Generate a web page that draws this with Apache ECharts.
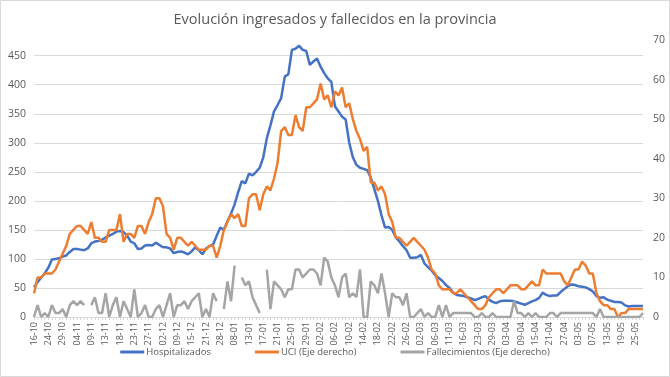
<!DOCTYPE html>
<html>
<head>
<meta charset="utf-8">
<script src="https://cdn.jsdelivr.net/npm/echarts@6/dist/echarts.min.js"></script>
<style>
  html, body { margin: 0; padding: 0; background: #fff; }
  #chart { width: 670px; height: 377px; }
</style>
</head>
<body>
<div id="chart"></div>
<script>
// fechas (una etiqueta de cada cuatro en el eje)
const fechas = [
  '16-10','18-10','20-10','22-10','24-10','26-10','27-10','28-10','29-10','30-10','02-11','03-11',
  '04-11','05-11','06-11','08-11','09-11','10-11','11-11','12-11','13-11','14-11','16-11','17-11',
  '18-11','19-11','20-11','21-11','23-11','24-11','25-11','26-11','27-11','28-11','30-11','01-12',
  '02-12','03-12','04-12','07-12','09-12','10-12','11-12','14-12','15-12','16-12','17-12','18-12',
  '21-12','22-12','23-12','24-12','28-12','29-12','30-12','04-01','08-01','09-01','11-01','12-01',
  '13-01','14-01','15-01','16-01','17-01','18-01','19-01','20-01','21-01','22-01','23-01','24-01',
  '25-01','26-01','27-01','28-01','29-01','30-01','31-01','01-02','02-02','03-02','04-02','05-02',
  '06-02','07-02','08-02','09-02','10-02','11-02','12-02','13-02','14-02','15-02','16-02','17-02',
  '18-02','19-02','20-02','21-02','22-02','23-02','24-02','25-02','26-02','27-02','28-02','01-03',
  '02-03','03-03','04-03','05-03','06-03','08-03','09-03','10-03','11-03','12-03','13-03','15-03',
  '16-03','17-03','18-03','19-03','23-03','24-03','25-03','26-03','29-03','30-03','31-03','01-04',
  '03-04','05-04','06-04','08-04','09-04','12-04','13-04','14-04','15-04','16-04','19-04','20-04',
  '21-04','22-04','23-04','26-04','27-04','28-04','29-04','30-04','03-05','04-05','05-05','06-05',
  '07-05','10-05','11-05','12-05','13-05','14-05','17-05','18-05','19-05','20-05','21-05','24-05',
  '25-05','26-05','27-05'
]

const hospitalizados = [
  51, 60, 68, 75, 85, 99, 100, 101, 104, 106, 112, 117, 117, 116, 115, 118, 127, 130, 131, 133,
  137, 140, 143, 147, 148, 146, 140, 130, 127, 117, 118, 123, 124, 123, 128, 124, 120, 120, 118, 110,
  112, 113, 111, 108, 113, 120, 115, 108, 118, 122, 125, 140, 154, 150, 165, 178, 194, 215, 234, 230,
  247, 244, 250, 257, 275, 308, 330, 354, 365, 377, 414, 418, 460, 462, 467, 460, 458, 434, 440, 445,
  431, 420, 411, 405, 363, 354, 345, 340, 300, 275, 262, 257, 255, 253, 240, 220, 200, 175, 154, 155,
  150, 137, 130, 122, 115, 102, 102, 103, 107, 92, 86, 80, 72, 67, 62, 55, 50, 42, 38, 37,
  36, 34, 32, 29, 31, 34, 36, 30, 26, 24, 27, 28, 28, 28, 27, 25, 23, 21, 24, 27,
  29, 33, 42, 38, 36, 37, 37, 43, 48, 53, 56, 55, 53, 52, 51, 48, 44, 36, 33, 34,
  30, 28, 26, 26, 25, 20, 18, 19, 19, 19, 19
]

const uci = [
  6, 10, 10, 11, 11, 11, 12, 14, 16, 18, 21, 22, 23, 23, 22, 21, 24, 20, 20, 19,
  19, 22, 22, 22, 26, 19, 21, 21, 20, 23, 23, 21, 24, 26, 30, 30, 28, 21, 20, 17,
  20, 20, 19, 18, 19, 18, 17, 17, 17, 18, 18, 15, 18, 22, 24, 26, 25, 26, 23, 23,
  30, 31, 31, 27, 31, 33, 32, 35, 39, 47, 48, 46, 46, 51, 48, 47, 53, 53, 54, 55,
  59, 55, 56, 53, 57, 56, 58, 53, 54, 50, 47, 45, 42, 43, 34, 34, 32, 33, 31, 26,
  24, 20, 20, 19, 18, 19, 20, 19, 18, 17, 15, 12, 11, 8, 7, 7, 7, 6, 6, 7,
  6, 5, 4, 3, 2, 2, 3, 5, 6, 7, 7, 6, 7, 8, 8, 8, 7, 7, 8, 9,
  8, 8, 12, 11, 11, 11, 11, 11, 9, 8, 10, 12, 12, 14, 13, 11, 11, 6, 4, 3,
  3, 2, 2, 0, 1, 1, 2, 2, 2, 2, 2
]

const fallecimientos = [
  0, 3, 0, 1, 0, 3, 1, 1, 2, 0, 3, 4, 3, 4, 3, null, 3, 5, 1, 1,
  6, 0, 3, 5, 0, 4, 2, 0, 7, 0, 1, 3, 0, 0, 2, 3, 0, 3, 6, 0,
  3, 3, 4, 2, 4, 5, 6, 0, 2, 0, 6, 4, null, 2, 9, 4, 13, null, 10, 8,
  9, 5, 3, 1, null, 12, 2, 9, 8, 7, 5, 7, 7, 12, 12, 10, 11, 12, 12, 11,
  8, 15, 14, 10, 8, 5, 10, 11, 5, 6, 5, 12, 0, 0, 9, 8, 6, 11, 6, 0,
  6, 5, 5, 3, 6, 0, 0, 1, 2, 0, 1, 0, 0, 3, 0, 3, 0, 1, 1, 1,
  1, 1, 1, 0, 0, 1, 0, 0, 1, 0, 0, 0, 0, 0, 4, 1, 1, 0, 1, 0,
  1, 0, 0, 0, 1, 1, 0, 1, 1, 1, 1, 1, 1, 1, 1, 1, 1, 0, 2, 0,
  0, 0, 0, 0, 0, 0, 0, 0, 0, 0, 1
]

const chart = echarts.init(document.getElementById('chart'))

const txt = '#595959'
const fuente = 'Open Sans, Noto Sans, sans-serif'

const option = {
  animation: false,
  textStyle: { fontFamily: fuente },
  title: {
    text: 'Evolución ingresados y fallecidos en la provincia',
    left: 'center',
    top: 7,
    textStyle: { fontSize: 14.5, fontWeight: 'normal', color: txt, fontFamily: fuente }
  },
  graphic: [{
    type: 'rect',
    shape: { x: 0.5, y: 0.5, width: 669, height: 376 },
    style: { fill: 'none', stroke: '#d9d9d9', lineWidth: 1 },
    silent: true
  }],
  legend: {
    bottom: 15,
    left: 'center',
    itemWidth: 24,
    itemHeight: 3,
    itemGap: 44,
    icon: 'rect',
    textStyle: { fontSize: 9.5, color: txt, fontFamily: fuente, padding: [0, 0, 0, -3] },
    data: ['Hospitalizados', 'UCI (Eje derecho)', 'Fallecimientos (Eje derecho)']
  },
  grid: { left: 34, right: 27, top: 40, bottom: 60, containLabel: false },
  xAxis: {
    type: 'category',
    data: fechas,
    boundaryGap: false,
    axisLine: { lineStyle: { color: '#d9d9d9' } },
    axisTick: { show: true, interval: 0, length: 3, lineStyle: { color: '#d9d9d9' } },
    axisLabel: { interval: 3, rotate: 90, fontSize: 9, color: txt, margin: 5 }
  },
  yAxis: [{
    type: 'value',
    min: 0,
    max: 477,
    interval: 50,
    axisLine: { show: false },
    axisTick: { show: false },
    axisLabel: { fontSize: 10.5, color: txt, margin: 8, showMaxLabel: false },
    splitLine: { showMaxLine: false, lineStyle: { color: '#d9d9d9' } }
  }, {
    type: 'value',
    min: 0,
    max: 70,
    interval: 10,
    axisLine: { show: false },
    axisTick: { show: false },
    axisLabel: { fontSize: 10.5, color: txt, margin: 10 },
    splitLine: { show: false }
  }],
  series: [{
    name: 'Hospitalizados',
    type: 'line',
    data: hospitalizados,
    yAxisIndex: 0,
    symbol: 'none',
    itemStyle: { color: '#4472c4' },
    lineStyle: { width: 2.5, color: '#4472c4' }
  }, {
    name: 'UCI (Eje derecho)',
    type: 'line',
    data: uci,
    yAxisIndex: 1,
    symbol: 'none',
    itemStyle: { color: '#ed7d31' },
    lineStyle: { width: 2.5, color: '#ed7d31' }
  }, {
    name: 'Fallecimientos (Eje derecho)',
    type: 'line',
    data: fallecimientos,
    yAxisIndex: 1,
    symbol: 'none',
    connectNulls: false,
    itemStyle: { color: '#a5a5a5' },
    lineStyle: { width: 2.5, color: '#a5a5a5' }
  }]
}

chart.setOption(option)
</script>
</body>
</html>
